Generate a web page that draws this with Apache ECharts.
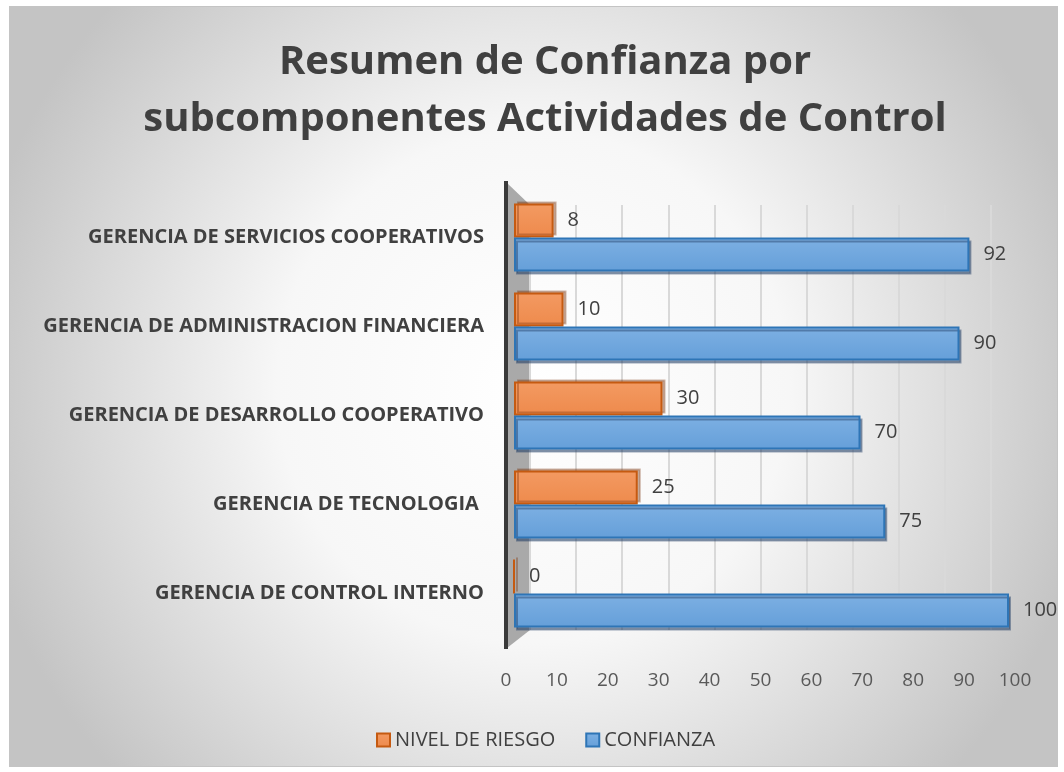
<!DOCTYPE html>
<html>
<head>
<meta charset="utf-8">
<script src="https://cdn.jsdelivr.net/npm/echarts@6/dist/echarts.min.js"></script>
<style>
  html, body { margin: 0; padding: 0; background: #fff; }
  #chart { position: absolute; left: 9px; top: 6px; width: 1047px; height: 759px; border: 1px solid #c4c4c4; }
</style>
</head>
<body>
<div id="chart"></div>
<script>
// categories, bottom to top (ECharts draws first category at the bottom)
var categorias = [
    'GERENCIA DE CONTROL INTERNO',
    'GERENCIA DE TECNOLOGIA ',
    'GERENCIA DE DESARROLLO COOPERATIVO',
    'GERENCIA DE ADMINISTRACION FINANCIERA',
    'GERENCIA DE SERVICIOS COOPERATIVOS'
];
var nivelRiesgo = [0, 25, 30, 10, 8];
var confianza = [100, 75, 70, 90, 92];
var escalaMin = 0, escalaMax = 100, escalaPaso = 10;

var myChart = echarts.init(document.getElementById('chart'));

// the 3d look of the original: bars on the front plane, gridlines on the
// back wall and the tick labels on the front edge of the floor, each one
// on its own grid with the same 0-100 scale
var option = {
    backgroundColor: {
        type: 'radial', x: 0.5, y: 0.5, r: 0.75,
        colorStops: [
            { offset: 0, color: '#ffffff' },
            { offset: 0.45, color: '#f7f7f7' },
            { offset: 1, color: '#c4c4c4' }
        ]
    },
    textStyle: { fontFamily: 'Open Sans' },
    title: {
        text: 'Resumen de Confianza por\nsubcomponentes Actividades de Control',
        left: 530,
        textAlign: 'center',
        top: 22,
        textStyle: {
            fontFamily: 'Open Sans',
            fontWeight: 'bold',
            fontSize: 40,
            lineHeight: 57,
            color: '#404040'
        }
    },
    legend: {
        data: ['NIVEL DE RIESGO', 'CONFIANZA'],
        left: 361,
        top: 718,
        icon: 'rect',
        itemWidth: 13,
        itemHeight: 13,
        itemGap: 30,
        textStyle: { fontSize: 20, color: '#404040', fontFamily: 'Open Sans' }
    },
    grid: [
        { left: 504, right: 48, top: 186, height: 445 },   // bars
        { left: 520, right: 66, top: 198, height: 425 },   // back wall
        { left: 496, right: 42, top: 630, height: 10 }     // floor edge labels
    ],
    graphic: [
        {
            type: 'polygon',
            shape: { points: [[497, 176], [520, 198], [520, 623], [497, 641]] },
            style: { fill: '#a9a9a9' },
            silent: true
        },
        {
            type: 'line',
            shape: { x1: 496, y1: 174, x2: 496, y2: 642 },
            style: { stroke: '#3a3a3a', lineWidth: 4 },
            silent: true
        }
    ],
    xAxis: [
        {
            type: 'value', gridIndex: 0,
            min: escalaMin, max: escalaMax, interval: escalaPaso,
            axisLine: { show: false }, axisTick: { show: false },
            axisLabel: { show: false }, splitLine: { show: false }
        },
        {
            type: 'value', gridIndex: 1,
            min: escalaMin, max: escalaMax, interval: escalaPaso,
            axisLine: { show: false }, axisTick: { show: false },
            axisLabel: { show: false },
            splitLine: { lineStyle: { color: '#d9d9d9', width: 2 } }
        },
        {
            type: 'value', gridIndex: 2,
            min: escalaMin, max: escalaMax, interval: escalaPaso,
            axisLine: { show: false }, axisTick: { show: false },
            axisLabel: { fontSize: 19, color: '#595959', margin: 24 },
            splitLine: { show: false }
        }
    ],
    yAxis: [
        {
            type: 'category', gridIndex: 0,
            data: categorias,
            axisTick: { show: false },
            axisLine: { show: false },
            axisLabel: { fontSize: 20, fontWeight: 'bold', color: '#404040', margin: 30 }
        },
        { type: 'category', gridIndex: 1, data: categorias, show: false },
        { type: 'category', gridIndex: 2, data: categorias, show: false }
    ],
    series: [
        {
            name: 'NIVEL DE RIESGO',
            type: 'bar',
            xAxisIndex: 0, yAxisIndex: 0,
            data: nivelRiesgo,
            barWidth: 34,
            barGap: '0%',
            itemStyle: {
                color: {
                    type: 'linear', x: 0, y: 0, x2: 0, y2: 1,
                    colorStops: [
                        { offset: 0, color: '#f39a62' },
                        { offset: 1, color: '#ee8a4c' }
                    ]
                },
                borderColor: '#c55a11',
                borderWidth: 2,
                shadowColor: 'rgba(120,50,10,0.35)',
                shadowOffsetX: 3,
                shadowOffsetY: -2
            },
            label: { show: true, position: 'right', distance: 14, fontSize: 20, color: '#404040' }
        },
        {
            name: 'CONFIANZA',
            type: 'bar',
            xAxisIndex: 0, yAxisIndex: 0,
            data: confianza,
            barWidth: 34,
            barGap: '0%',
            itemStyle: {
                color: {
                    type: 'linear', x: 0, y: 0, x2: 0, y2: 1,
                    colorStops: [
                        { offset: 0, color: '#7db0e3' },
                        { offset: 1, color: '#659fd9' }
                    ]
                },
                borderColor: '#2e75b6',
                borderWidth: 2,
                shadowColor: 'rgba(30,60,100,0.45)',
                shadowOffsetX: 2,
                shadowOffsetY: 3
            },
            label: { show: true, position: 'right', distance: 14, fontSize: 20, color: '#404040' }
        }
    ]
};

myChart.setOption(option);
window.addEventListener('resize', function () {
    myChart.resize();
});
</script>
</body>
</html>
